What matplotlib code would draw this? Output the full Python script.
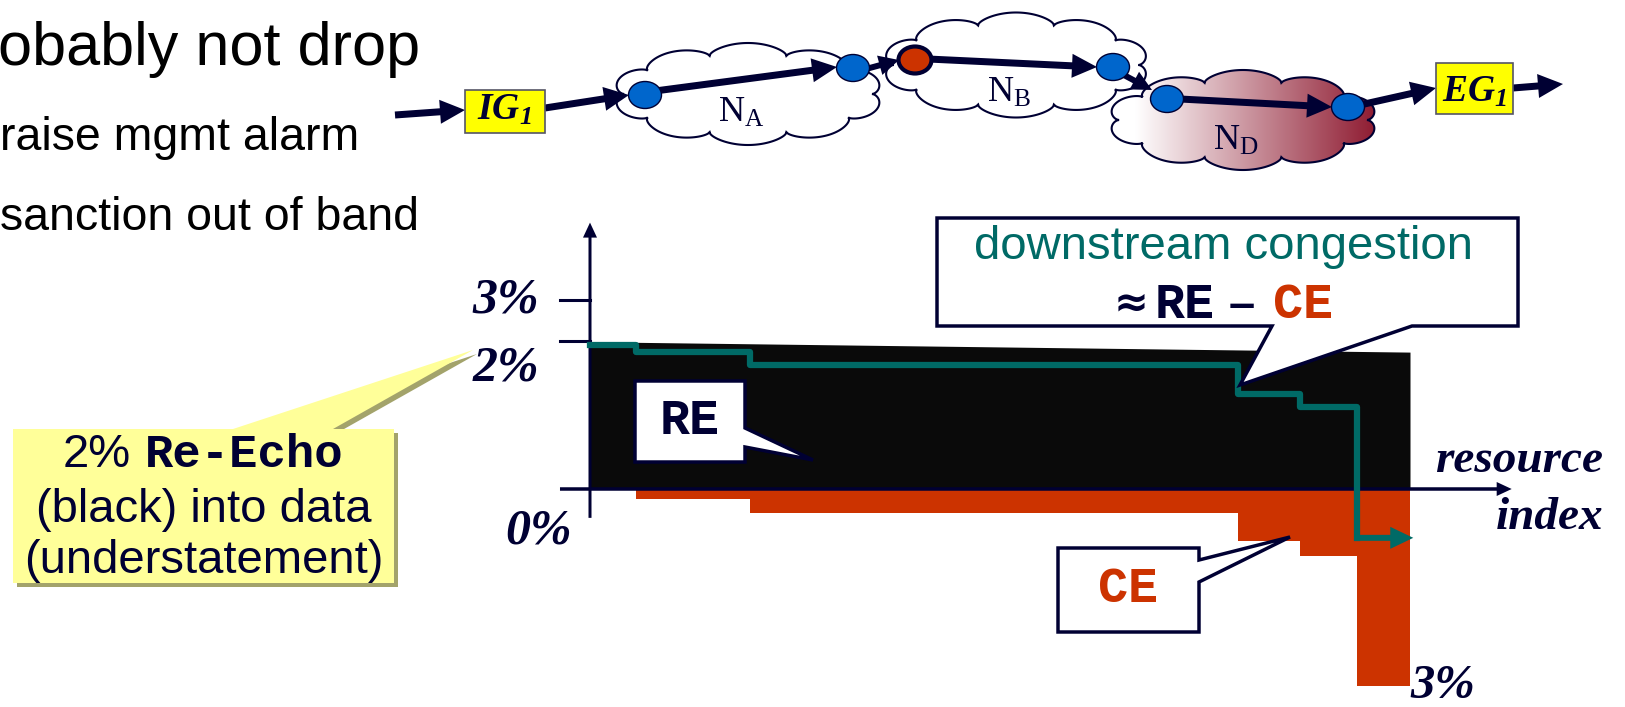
import numpy as np
import matplotlib
matplotlib.use('Agg')
import matplotlib.pyplot as plt
import matplotlib.patches as mpatches
from matplotlib.colors import LinearSegmentedColormap

plt.rcParams['font.family'] = ['Liberation Sans', 'DejaVu Sans']
plt.rcParams['mathtext.fontset'] = 'custom'
plt.rcParams['mathtext.rm'] = 'Liberation Serif'
plt.rcParams['mathtext.bf'] = 'Liberation Serif:bold:italic'

# --- chart data: resource index (0..100) vs percent ---
steps = [0, 5.6, 19.5, 79.0, 86.6, 93.5, 100]     # step boundaries on resource index
re_x = [0, 100]
re_pct = [1.99, 1.85]                              # Re-Echo (black) level
ce_pct = [0, 0.135, 0.32, 0.70, 0.90, 2.66]        # congestion experienced (red, below 0)
down_pct = [1.95, 1.85, 1.67, 1.28, 1.11, -0.66]   # downstream congestion ~ RE - CE
tick_pct = [2.55, 2.0]

bullets = ['obably not drop', 'raise mgmt alarm', 'sanction out of band']
callout_lines = ['(black) into data', '(understatement)']

NAVY = '#000033'
TEAL = '#006a66'
RED = '#cc3300'
BLUE = '#0066cc'
SERIF_BI = dict(family='Liberation Serif', weight='bold', style='italic')
MONO_B = dict(family='Liberation Mono', weight='bold')

W, H = 1625, 707
fig = plt.figure(figsize=(W / 100, H / 100), dpi=100)

# chart axes placed so index 0 -> 590px, 100 -> 1410px ; 0% -> 489px, 1% = 74px
X0, XS, Y0, YS = 590, 8.2, 489, 74
xlim = (-4, 115)
ylim = (-2.9, 3.6)
left = X0 + xlim[0] * XS
right = X0 + xlim[1] * XS
top = Y0 - ylim[1] * YS
bot = Y0 - ylim[0] * YS
ax = fig.add_axes([left / W, (H - bot) / H, (right - left) / W, (bot - top) / H])
ax.set_xlim(*xlim)
ax.set_ylim(*ylim)
ax.axis('off')

# overlay in pixel coordinates for the slide decorations
ov = fig.add_axes([0, 0, 1, 1])
ov.set_zorder(5)
ov.axis('off')


def arrow(axx, p0, p1, tail, hl, hw, color=NAVY, z=3):
    # mutation_scale 0.72pt == 1px at 100 dpi, so sizes below are in pixels
    axx.annotate('', xy=p1, xytext=p0, annotation_clip=False, zorder=z,
                 arrowprops=dict(arrowstyle='simple,head_length=%g,head_width=%g,tail_width=%g'
                                 % (hl, hw, tail),
                                 mutation_scale=0.72, fc=color, ec='none',
                                 shrinkA=0, shrinkB=0))


# --- step chart ---
ax.fill_between(re_x, 0, re_pct, color='#0a0a0a', lw=0, zorder=1)
ce_edge = [-v for v in ce_pct] + [-ce_pct[-1]]
ax.fill_between(steps, 0, ce_edge, step='post', color=RED, lw=0, zorder=1)

for t in tick_pct:
    ax.plot([-3.66, 0], [t, t], color=NAVY, lw=2.2, zorder=2, clip_on=False)
arrow(ax, (0, -0.39), (0, 3.6), 3, 15, 14, z=2)
arrow(ax, (-3.66, 0), (112.4, 0), 3.5, 15, 14, z=2)

ax.plot(steps[:-1], down_pct, drawstyle='steps-post', color=TEAL, lw=4.5,
        solid_joinstyle='round', zorder=3, clip_on=False)
arrow(ax, (93.3, down_pct[-1]), (100.4, down_pct[-1]), 6, 23, 22, color=TEAL, z=3)

ax.text(-6.2, 2.38, '3%', ha='right', va='baseline', fontsize=36, color=NAVY, **SERIF_BI)
ax.text(-6.2, 1.47, '2%', ha='right', va='baseline', fontsize=36, color=NAVY, **SERIF_BI)
ax.text(-2.2, -0.73, '0%', ha='right', va='baseline', fontsize=36, color=NAVY, **SERIF_BI)
ax.text(100.0, -2.83, '3%', ha='left', va='baseline', fontsize=35, color=NAVY,
        clip_on=False, **SERIF_BI)

ov.text(1603, 472, 'resource', ha='right', va='baseline', fontsize=34, color=NAVY, **SERIF_BI)
ov.text(1603, 529, 'index', ha='right', va='baseline', fontsize=34, color=NAVY, **SERIF_BI)

# --- bullet text at the left edge ---
ov.text(-2, 65, bullets[0], fontsize=44, va='baseline', color='black')
ov.text(0, 150, bullets[1], fontsize=33.5, va='baseline', color='black')
ov.text(0, 230, bullets[2], fontsize=33.5, va='baseline', color='black')


# --- network diagram ---
def cloud_xy(cx, cy, w, h, n=10, depth=11):
    t = np.linspace(0, 2 * np.pi, 721)
    bump = np.abs(np.sin(n * t / 2)) ** 0.6
    rx = w / 2 - depth + depth * bump
    ry = h / 2 - depth + depth * bump
    return np.column_stack([cx + rx * np.cos(t), cy + ry * np.sin(t)])


ov.add_patch(mpatches.Polygon(cloud_xy(748, 94, 270, 102), closed=True,
                              fc='white', ec=NAVY, lw=1.5, zorder=1))
ov.add_patch(mpatches.Polygon(cloud_xy(1016, 65, 267, 105), closed=True,
                              fc='white', ec=NAVY, lw=1.5, zorder=1))
cd = mpatches.Polygon(cloud_xy(1243, 120, 270, 100), closed=True,
                      fc='none', ec=NAVY, lw=1.5, zorder=1.2)
ov.add_patch(cd)
cmap = LinearSegmentedColormap.from_list('cong', [(0, 'white'), (0.1, 'white'), (1, '#8e1a30')])
im = ov.imshow(np.linspace(0, 1, 256).reshape(1, -1), extent=[1108, 1378, 170, 70],
               cmap=cmap, aspect='auto', zorder=1.1)
im.set_clip_path(cd)

ov.text(718, 122, r'$\mathrm{N_A}$', fontsize=26, color=NAVY, va='baseline', zorder=2)
ov.text(987, 102, r'$\mathrm{N_B}$', fontsize=26, color=NAVY, va='baseline', zorder=2)
ov.text(1213, 150, r'$\mathrm{N_D}$', fontsize=26, color=NAVY, va='baseline', zorder=2)

arrow(ov, (395, 115), (465, 110), 7, 25, 24)
arrow(ov, (545, 108), (629, 95), 7, 25, 24)
arrow(ov, (655, 91), (837, 67), 7, 25, 24)
arrow(ov, (866, 69), (899, 60), 6, 20, 20)
arrow(ov, (928, 59), (1097, 67), 7, 25, 24)
arrow(ov, (1122, 74), (1152, 90), 6, 20, 20)
arrow(ov, (1180, 99), (1332, 107), 7, 25, 24)
arrow(ov, (1360, 105), (1436, 88), 7, 25, 24)
arrow(ov, (1513, 88), (1563, 84), 7, 25, 24)

for cx, cy in [(645, 95), (853, 68), (1113, 67), (1167, 99), (1348, 107)]:
    ov.add_patch(mpatches.Ellipse((cx, cy), 33, 27, fc=BLUE, ec=NAVY, lw=1, zorder=4))
ov.add_patch(mpatches.Ellipse((915, 60), 33, 27, fc=RED, ec=NAVY, lw=3, zorder=4))

ov.add_patch(mpatches.Rectangle((465, 90), 80, 43, fc='#ffff00', ec='#555566', lw=1.2, zorder=4))
ov.add_patch(mpatches.Rectangle((1436, 63), 77, 51, fc='#ffff00', ec='#555566', lw=1.2, zorder=4))
ov.text(477, 120, r'$\mathbf{IG_1}$', fontsize=27, color=NAVY, va='baseline', zorder=5)
ov.text(1442, 102, r'$\mathbf{EG_1}$', fontsize=27, color=NAVY, va='baseline', zorder=5)

# --- callouts ---
yel = [(13, 429), (233, 429), (473, 350), (333, 429), (394, 429), (394, 583), (13, 583)]
ov.add_patch(mpatches.Polygon([(x + 4, y + 4) for x, y in yel], fc='#a3a36b', ec='none', zorder=2))
ov.add_patch(mpatches.Polygon(yel, fc='#ffff99', ec='none', zorder=2.1))
ov.text(63, 467, '2%', fontsize=34, color=NAVY, va='baseline', zorder=3)
ov.text(145, 467, 'Re-Echo', fontsize=34, color=NAVY, va='baseline', zorder=3, **MONO_B)
ov.text(204, 522, callout_lines[0], fontsize=34, color=NAVY, va='baseline', ha='center', zorder=3)
ov.text(204, 573, callout_lines[1], fontsize=34, color=NAVY, va='baseline', ha='center', zorder=3)

down_box = [(937, 218), (1518, 218), (1518, 326), (1412, 326), (1240, 385), (1272, 326), (937, 326)]
ov.add_patch(mpatches.Polygon(down_box, fc='white', ec=NAVY, lw=2.5, zorder=2, joinstyle='miter'))
ov.text(974, 259, 'downstream congestion', fontsize=34, color=TEAL, va='baseline', zorder=3)
ov.text(1114, 316, '\u2248', fontsize=30, color=NAVY, va='baseline', zorder=3,
        family='DejaVu Sans', weight='bold')
ov.text(1155, 318, 'RE', fontsize=36, color=NAVY, va='baseline', zorder=3, **MONO_B)
ov.text(1229, 318, '\u2013', fontsize=34, color=NAVY, va='baseline', zorder=3, weight='bold')
ov.text(1273, 318, 'CE', fontsize=36, color=RED, va='baseline', zorder=3, **MONO_B)

re_box = [(635, 381), (745, 381), (745, 428), (813, 460), (745, 447), (745, 462), (635, 462)]
ov.add_patch(mpatches.Polygon(re_box, fc='white', ec=NAVY, lw=2.5, zorder=2, joinstyle='miter'))
ov.text(690, 434, 'RE', fontsize=36, color=NAVY, va='baseline', ha='center', zorder=3, **MONO_B)

ce_box = [(1058, 548), (1199, 548), (1199, 560), (1290, 537), (1199, 582), (1199, 632), (1058, 632)]
ov.add_patch(mpatches.Polygon(ce_box, fc='white', ec=NAVY, lw=2.5, zorder=2, joinstyle='miter'))
ov.text(1128, 602, 'CE', fontsize=36, color=RED, va='baseline', ha='center', zorder=3, **MONO_B)

ov.set_xlim(0, W)
ov.set_ylim(H, 0)

fig.savefig('out.png', dpi=100)
